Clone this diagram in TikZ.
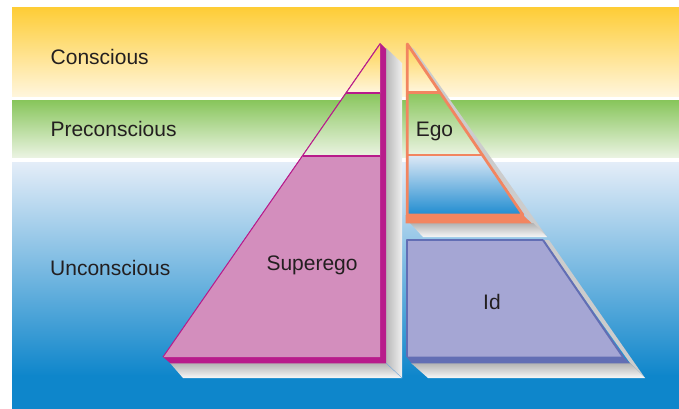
\documentclass[tikz,border=0pt]{standalone}
\usepackage{fontspec}
\setmainfont{Liberation Sans}
\definecolor{yel1}{RGB}{254,205,55}
\definecolor{yel2}{RGB}{255,246,222}
\definecolor{grn1}{RGB}{137,198,93}
\definecolor{grn2}{RGB}{234,243,225}
\definecolor{blu1}{RGB}{228,237,248}
\definecolor{blu2}{RGB}{14,134,203}
\definecolor{mag}{RGB}{184,27,139}
\definecolor{pnk}{RGB}{211,142,189}
\definecolor{org}{RGB}{242,133,96}
\definecolor{egob1}{RGB}{222,233,246}
\definecolor{egob2}{RGB}{32,140,208}
\definecolor{idf}{RGB}{165,166,212}
\definecolor{idb}{RGB}{98,110,180}
\definecolor{txt}{RGB}{35,31,32}
\definecolor{seam}{RGB}{120,170,220}
\begin{document}
\begin{tikzpicture}[x=1pt,y=-1pt,
  lbl/.style={font=\fontsize{21}{24}\selectfont, text=txt, inner sep=0pt, anchor=base west},
  sideshd/.style={fill=black!20},
  botshd/.style={top color=black!30, bottom color=black!3}]
\useasboundingbox (0,0) rectangle (679,409);
\fill[white] (0,0) rectangle (679,409);
% background bands
\shade[top color=yel1, bottom color=yel2] (12,8) rectangle (679,97);
\shade[top color=grn1, bottom color=grn2] (12,101) rectangle (679,157);
\shade[top color=blu1, bottom color=blu2] (12,162) rectangle (679,375.5);
\fill[blu2] (12,375) rectangle (679,409);

% ---------- Superego ----------
\shade[left color=black!28, right color=black!6] (386,48) -- (402,63) -- (402,378) -- (386,363) -- cycle;
\shade[botshd] (170,363) -- (386,363) -- (402,378) -- (183,378) -- cycle;
\draw[seam, line width=0.4pt] (386,363) -- (402,378);
\fill[mag] (380,43) -- (386,49) -- (386,363.3) -- (170.5,363.3) -- (163,357) -- cycle;
\fill[pnk] (302.6,155.7) -- (380,155.7) -- (380,357) -- (163,357) -- cycle;
\shade[top color=yel1!85!yel2, bottom color=yel2] (380,44) -- (345.8,93.3) -- (380,93.3) -- cycle;
\shade[top color=grn1, bottom color=grn2] (345.8,93.3) -- (380,93.3) -- (380,155.7) -- (302.6,155.7) -- cycle;
\draw[mag, line width=1pt] (380,44) -- (163,357);
\draw[mag, line width=1.6pt] (345.8,93.3) -- (380,93.3);
\draw[mag, line width=1.6pt] (302.6,155.7) -- (380,155.7);
\node[lbl] (superego) at (266.3,270) {Superego};

% ---------- Ego ----------
\fill[sideshd] (407,44) -- (414,49) -- (547,237) -- (531,223) -- cycle;
\shade[botshd] (410,223) -- (533,223) -- (547,237) -- (423,237) -- cycle;
\shade[top color=yel1!85!yel2, bottom color=yel2] (407,44) -- (440,92.3) -- (407,92.3) -- cycle;
\shade[top color=grn1, bottom color=grn2] (407,92.3) -- (440,92.3) -- (481.7,155) -- (407,155) -- cycle;
\shade[top color=egob1, bottom color=egob2] (407,155) -- (481.7,155) -- (523,215) -- (407,215) -- cycle;
\fill[org] (405.5,215) -- (523,215) -- (531.7,223.3) -- (405.5,223.3) -- cycle;
\draw[org, line width=2.8pt, line join=round] (407.3,44) -- (523,215) -- (407.3,215) -- cycle;
\draw[org, line width=2.5pt] (407,92.3) -- (440,92.3);
\draw[org, line width=2.5pt] (407,155) -- (481.7,155);
\node[lbl] (ego) at (415.6,136) {Ego};

% ---------- Id ----------
\fill[sideshd] (543,240) -- (549,240) -- (645,378) -- (630,363) -- cycle;
\shade[botshd] (411,363) -- (630,363) -- (645,378) -- (428,378) -- cycle;
\fill[idf] (407,240) -- (543,240) -- (623,357) -- (407,357) -- cycle;
\fill[idb] (406.5,356.5) -- (623,356.5) -- (630,363.3) -- (411.5,363.3) -- cycle;
\draw[idb, line width=1.1pt, line join=round] (407,357) -- (407,240) -- (543,240);
\draw[idb, line width=2pt] (543,240) -- (623,357);
\node[lbl] (id) at (483,309.3) {Id};

% ---------- level labels ----------
\node[lbl] (conscious) at (50.5,64.3) {Conscious};
\node[lbl] (preconscious) at (50.3,136.7) {Preconscious};
\node[lbl] (unconscious) at (50,275) {Unconscious};
\end{tikzpicture}
\end{document}
